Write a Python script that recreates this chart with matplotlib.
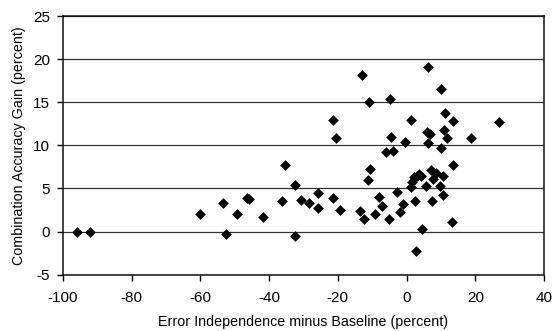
import matplotlib
matplotlib.use("Agg")
import matplotlib.pyplot as plt

plt.rcParams['font.family'] = ['Liberation Sans', 'DejaVu Sans']
plt.rcParams['axes.unicode_minus'] = False

# error independence minus baseline (percent)
x_vals = [-95.8, -92.0, -60.0, -53.3, -52.5, -49.2, -46.4, -45.8, -41.8, -36.1,
          -35.3, -32.6, -32.6, -30.7, -28.5, -25.7, -25.7, -21.4, -21.4, -20.4,
          -19.4, -13.7, -13.0, -12.4, -11.3, -10.9, -10.7, -9.3, -7.9, -7.2,
          -5.9, -5.2, -4.7, -4.5, -4.0, -2.8, -1.8, -1.0, -0.5, 1.3,
          1.3, 1.6, 2.0, 2.5, 2.7, 2.9, 3.7, 4.1, 4.4, 5.5,
          6.2, 6.0, 6.3, 6.8, 7.2, 7.3, 7.7, 8.6, 9.9, 9.9,
          9.6, 10.5, 10.7, 11.2, 11.0, 11.7, 13.4, 13.6, 13.3, 18.6,
          26.9]
# combination accuracy gain (percent)
y_vals = [0.0, 0.0, 2.07, 3.35, -0.26, 2.1, 3.9, 3.8, 1.7, 3.5,
          7.7, 5.4, -0.5, 3.7, 3.3, 4.5, 2.7, 13.0, 3.9, 10.8,
          2.5, 2.4, 18.2, 1.5, 6.0, 15.0, 7.3, 2.1, 4.0, 3.0,
          9.2, 1.5, 15.4, 11.0, 9.4, 4.6, 2.3, 3.2, 10.4, 12.9,
          5.2, 5.7, 6.3, 3.5, -2.3, 6.5, 6.7, 6.5, 0.3, 5.3,
          19.1, 11.6, 10.3, 11.3, 7.2, 3.5, 6.1, 6.8, 16.5, 9.7,
          5.3, 6.4, 4.2, 13.7, 11.8, 10.9, 7.7, 12.8, 1.1, 10.8,
          12.7]

fig = plt.figure(figsize=(5.56, 3.31), dpi=100)
ax = fig.add_axes([0.1128, 0.170, 0.866, 0.7816])

ax.scatter(x_vals, y_vals, marker='D', s=30, color='black', linewidths=0, zorder=3)

ax.set_xlim(-100, 40)
ax.set_ylim(-5, 25)
ax.set_xticks(range(-100, 41, 20))
ax.set_yticks(range(-5, 26, 5))
ax.yaxis.grid(True, color='#333333', linewidth=0.9)
ax.set_axisbelow(True)

for side in ['top', 'right', 'left', 'bottom']:
    ax.spines[side].set_linewidth(1.1)
    ax.spines[side].set_color('#111111')

ax.tick_params(axis='both', labelsize=11, direction='out', length=4, width=1, pad=5)
ax.tick_params(axis='x', pad=8)
ax.set_xlabel('Error Independence minus Baseline (percent)', fontsize=10.3, labelpad=7)
ax.set_ylabel('Combination Accuracy Gain (percent)', fontsize=10.3, labelpad=5)

fig.savefig('out.png', dpi=100)
